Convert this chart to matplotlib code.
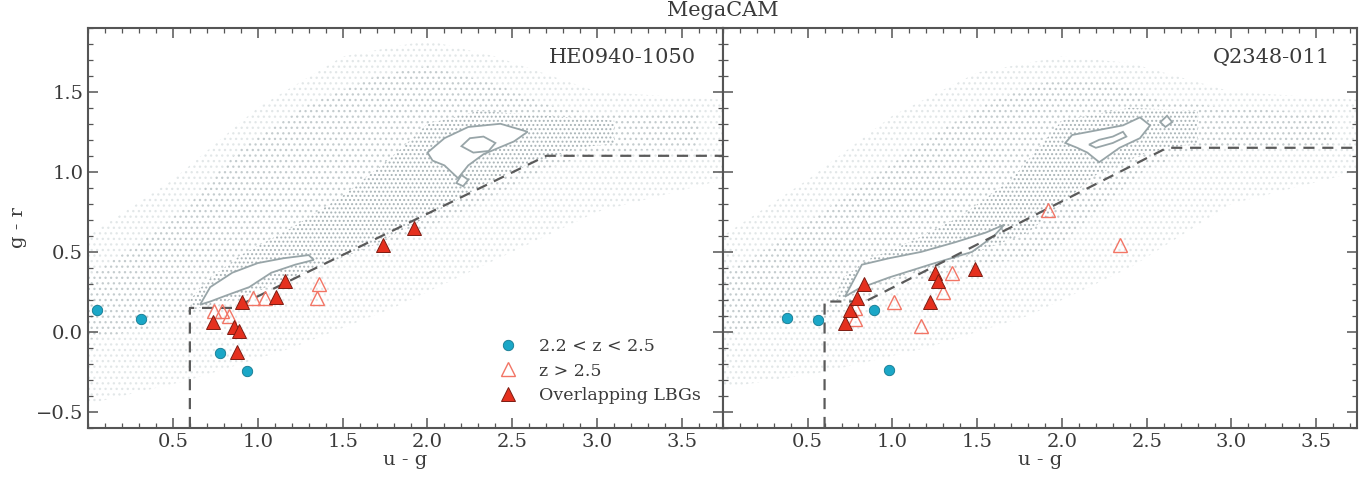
import matplotlib
matplotlib.use("Agg")
import matplotlib.pyplot as plt
from matplotlib.ticker import MultipleLocator

plt.rcParams['font.family'] = ['DejaVu Serif']
plt.rcParams['hatch.linewidth'] = 0.9

# ---------------- data ----------------
panels = ["HE0940-1050", "Q2348-011"]

# 2.2 < z < 2.5 (cyan circles)
L_low_ug = [0.05, 0.31, 0.775, 0.935]
L_low_gr = [0.14, 0.08, -0.13, -0.245]
R_low_ug = [0.38, 0.56, 0.89, 0.98]
R_low_gr = [0.09, 0.075, 0.14, -0.24]

# z > 2.5 (open triangles)
L_hi_ug = [0.74, 0.79, 0.83, 0.97, 1.04, 1.36, 1.35]
L_hi_gr = [0.13, 0.13, 0.10, 0.21, 0.21, 0.30, 0.21]
R_hi_ug = [0.78, 0.78, 1.01, 1.17, 1.30, 1.35, 1.92, 2.34]
R_hi_gr = [0.15, 0.08, 0.19, 0.04, 0.25, 0.37, 0.76, 0.54]

# Overlapping LBGs (filled triangles)
L_ov_ug = [0.735, 0.86, 0.89, 0.876, 0.91, 1.11, 1.16, 1.74, 1.92]
L_ov_gr = [0.06, 0.03, 0.005, -0.125, 0.19, 0.22, 0.32, 0.54, 0.65]
R_ov_ug = [0.72, 0.75, 0.79, 0.83, 1.22, 1.25, 1.27, 1.49]
R_ov_gr = [0.056, 0.14, 0.21, 0.30, 0.19, 0.37, 0.32, 0.39]

# colour-selection cut (dashed)
L_cut_ug = [0.6, 0.6, 0.86, 2.70, 3.74]
L_cut_gr = [-0.6, 0.15, 0.15, 1.10, 1.10]
R_cut_ug = [0.6, 0.6, 0.84, 2.62, 3.74]
R_cut_gr = [-0.6, 0.19, 0.19, 1.15, 1.15]

# field-galaxy cloud outlines: faint halo, sparse cloud, dense locus band, density contours
L_halo_ug = [0.0, 0.6, 1.2, 1.8, 2.4, 3.0, 3.74, 3.74, 3.0, 2.4, 2.0, 1.5, 1.0, 0.5, 0.0]
L_halo_gr = [-0.45, -0.3, -0.1, 0.15, 0.45, 0.75, 0.95, 1.45, 1.5, 1.72, 1.82, 1.72, 1.4, 0.95, 0.6]
L_cloud_ug = [0.0, 0.35, 0.62, 0.9, 1.2, 1.5, 1.9, 2.3, 2.7, 3.0, 3.6,
              3.6, 3.0, 2.7, 2.4, 2.0, 1.7, 1.3, 0.9, 0.6, 0.3, 0.0]
L_cloud_gr = [-0.05, 0.02, 0.12, 0.2, 0.33, 0.47, 0.6, 0.8, 1.02, 1.12, 1.15,
              1.36, 1.36, 1.42, 1.55, 1.66, 1.6, 1.42, 1.15, 0.8, 0.55, 0.35]
L_band_ug = [0.62, 0.9, 1.3, 1.7, 2.0, 2.3, 2.6, 2.9, 3.1,
             3.1, 2.7, 2.3, 2.0, 1.8, 1.5, 1.2, 0.9, 0.7, 0.6]
L_band_gr = [0.14, 0.22, 0.38, 0.55, 0.72, 0.9, 1.05, 1.15, 1.18,
             1.32, 1.35, 1.38, 1.30, 1.10, 0.85, 0.65, 0.48, 0.32, 0.2]
L_loopA_ug = [0.66, 0.72, 0.85, 1.0, 1.15, 1.30, 1.33, 1.22, 1.08, 0.95, 0.82, 0.72]
L_loopA_gr = [0.17, 0.28, 0.37, 0.43, 0.46, 0.48, 0.45, 0.42, 0.37, 0.28, 0.23, 0.19]
L_loopB_ug = [2.0, 2.1, 2.24, 2.43, 2.59, 2.51, 2.33, 2.24, 2.18, 2.10, 2.03]
L_loopB_gr = [1.12, 1.21, 1.28, 1.30, 1.25, 1.19, 1.11, 1.04, 0.96, 1.04, 1.07]
L_inner_ug = [2.2, 2.25, 2.33, 2.40, 2.36, 2.27]
L_inner_gr = [1.16, 1.21, 1.22, 1.18, 1.13, 1.12]
L_small_ug = [2.17, 2.2, 2.24, 2.21]
L_small_gr = [0.93, 0.98, 0.95, 0.91]

R_halo_ug = [0.0, 0.6, 1.2, 1.8, 2.4, 3.0, 3.74, 3.74, 3.0, 2.4, 2.0, 1.5, 1.0, 0.5, 0.0]
R_halo_gr = [-0.35, -0.25, -0.1, 0.1, 0.4, 0.8, 1.0, 1.45, 1.5, 1.68, 1.72, 1.62, 1.35, 0.95, 0.6]
R_cloud_ug = [0.0, 0.3, 0.6, 0.8, 1.0, 1.2, 1.5, 1.8, 2.0, 2.2, 2.5, 2.8, 3.6,
              3.6, 3.0, 2.6, 2.3, 1.9, 1.6, 1.3, 1.0, 0.6, 0.3, 0.0]
R_cloud_gr = [0.0, 0.03, 0.08, 0.17, 0.28, 0.34, 0.42, 0.46, 0.55, 0.75, 1.02, 1.14, 1.17,
              1.36, 1.40, 1.44, 1.56, 1.56, 1.45, 1.27, 1.05, 0.76, 0.55, 0.35]
R_band_ug = [0.66, 0.9, 1.2, 1.5, 1.8, 2.0, 2.2, 2.5, 2.8,
             2.8, 2.4, 2.0, 1.7, 1.4, 1.1, 0.85, 0.7]
R_band_gr = [0.19, 0.30, 0.40, 0.50, 0.62, 0.80, 0.98, 1.12, 1.18,
             1.38, 1.40, 1.32, 0.95, 0.72, 0.56, 0.45, 0.33]
R_loopA_ug = [0.72, 0.78, 0.82, 0.98, 1.17, 1.37, 1.55, 1.66, 1.6, 1.47, 1.22, 0.98, 0.80]
R_loopA_gr = [0.22, 0.34, 0.42, 0.46, 0.50, 0.56, 0.62, 0.67, 0.60, 0.50, 0.42, 0.34, 0.27]
R_loopB_ug = [2.02, 2.06, 2.16, 2.36, 2.46, 2.52, 2.46, 2.34, 2.22, 2.15, 2.09]
R_loopB_gr = [1.18, 1.23, 1.25, 1.29, 1.34, 1.29, 1.21, 1.15, 1.06, 1.12, 1.15]
R_inner_ug = [2.16, 2.22, 2.30, 2.36, 2.38, 2.30, 2.20]
R_inner_gr = [1.17, 1.20, 1.22, 1.25, 1.22, 1.18, 1.15]
R_small_ug = [2.58, 2.62, 2.65, 2.61]
R_small_gr = [1.31, 1.35, 1.31, 1.28]

# ---------------- styling ----------------
C_CYAN = '#1ba7c7'
C_CYAN_E = '#13788f'
C_RED = '#e5301e'
C_RED_E = '#7d1c12'
C_OPEN = '#f27565'
C_HALO = '#e2e7e8'
C_DOT = '#c4ccce'
C_DOT2 = '#a9b4b7'
C_CONT = '#98a5a8'
C_TXT = '#3a3a3a'
C_SPINE = '#555555'

fig = plt.figure(figsize=(13.69, 4.8), dpi=100)
axL = fig.add_axes([0.0643, 0.1083, 0.4637, 0.834])
axR = fig.add_axes([0.528, 0.1083, 0.4632, 0.834], sharey=axL)

panel_data = [
    (axL, L_low_ug, L_low_gr, L_hi_ug, L_hi_gr, L_ov_ug, L_ov_gr, L_cut_ug, L_cut_gr,
     L_halo_ug, L_halo_gr, L_cloud_ug, L_cloud_gr, L_band_ug, L_band_gr,
     [(L_loopA_ug, L_loopA_gr), (L_loopB_ug, L_loopB_gr), (L_small_ug, L_small_gr)],
     [(L_inner_ug, L_inner_gr)]),
    (axR, R_low_ug, R_low_gr, R_hi_ug, R_hi_gr, R_ov_ug, R_ov_gr, R_cut_ug, R_cut_gr,
     R_halo_ug, R_halo_gr, R_cloud_ug, R_cloud_gr, R_band_ug, R_band_gr,
     [(R_loopA_ug, R_loopA_gr), (R_loopB_ug, R_loopB_gr), (R_small_ug, R_small_gr)],
     [(R_inner_ug, R_inner_gr)]),
]

for i, (ax, lx, ly, hx, hy, ox, oy, cx, cy, hax, hay, clx, cly, bx, by,
        loops, inners) in enumerate(panel_data):
    # field cloud
    ax.fill(hax, hay, facecolor='none', edgecolor=C_HALO, hatch='...', lw=0, zorder=0.8)
    ax.fill(clx, cly, facecolor='white', edgecolor=C_DOT, hatch='...', lw=0, zorder=1)
    ax.fill(bx, by, facecolor='white', edgecolor=C_DOT2, hatch='....', lw=0, zorder=1.5)
    for (px, py) in loops:
        ax.fill(px, py, facecolor='white', edgecolor=C_CONT, lw=1.3, zorder=2)
    for (px, py) in inners:
        ax.fill(px, py, facecolor='none', edgecolor=C_CONT, lw=1.3, zorder=2.1)
    # cut
    ax.plot(cx, cy, ls=(0, (5, 3.5)), color='#5a5a5a', lw=1.6, zorder=3)
    # galaxies
    ax.plot(lx, ly, 'o', ms=7.5, mfc=C_CYAN, mec=C_CYAN_E, mew=0.6, zorder=5,
            label='2.2 < z < 2.5')
    ax.plot(hx, hy, '^', ms=10, mfc='none', mec=C_OPEN, mew=1.0, zorder=4,
            label='z > 2.5')
    ax.plot(ox, oy, '^', ms=10.5, mfc=C_RED, mec=C_RED_E, mew=0.7, zorder=6,
            label='Overlapping LBGs')

    ax.set_xlim(0, 3.74)
    ax.set_ylim(-0.6, 1.9)
    ax.xaxis.set_major_locator(MultipleLocator(0.5))
    ax.xaxis.set_minor_locator(MultipleLocator(0.1))
    ax.yaxis.set_major_locator(MultipleLocator(0.5))
    ax.yaxis.set_minor_locator(MultipleLocator(0.1))
    ax.tick_params(which='both', direction='in', top=True, right=True,
                   color=C_SPINE, labelcolor=C_TXT, labelsize=14)
    ax.tick_params(which='major', length=7, width=1.1)
    ax.tick_params(which='minor', length=3.5, width=0.9)
    ax.set_xticks([0.5, 1.0, 1.5, 2.0, 2.5, 3.0, 3.5])
    for s in ax.spines.values():
        s.set_color(C_SPINE)
        s.set_linewidth(1.5)
    ax.set_xlabel('u - g', fontsize=14, color=C_TXT, labelpad=0)
    ax.text(0.957, 0.925, panels[i], transform=ax.transAxes, ha='right', va='center',
            fontsize=15, color=C_TXT)

axL.set_ylabel('g - r', fontsize=14, color=C_TXT, labelpad=6)
axL.set_yticks([-0.5, 0.0, 0.5, 1.0, 1.5])
axL.set_yticklabels(['\u22120.5', '0.0', '0.5', '1.0', '1.5'])
plt.setp(axR.get_yticklabels(), visible=False)

leg = axL.legend(loc='lower right', frameon=False, fontsize=12.5, handlelength=1.2,
                 handletextpad=1.2, labelspacing=0.45, bbox_to_anchor=(0.99, 0.02),
                 labelcolor=C_TXT)

fig.text(0.528, 0.978, 'MegaCAM', ha='center', va='center', fontsize=15, color=C_TXT)

fig.savefig('out.png', dpi=100)
